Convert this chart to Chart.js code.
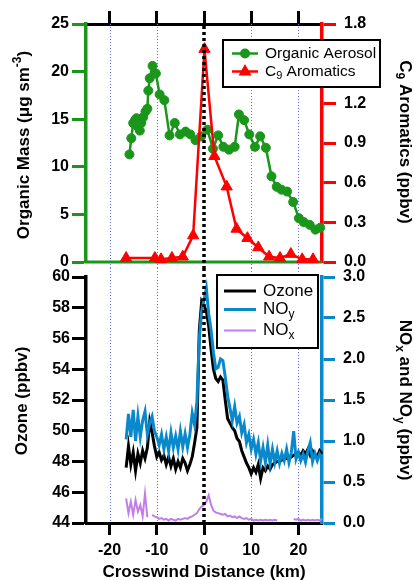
<!DOCTYPE html>
<html><head><meta charset="utf-8">
<script src="https://cdn.jsdelivr.net/npm/chart.js@4.4.1/dist/chart.umd.min.js"></script>
<style>
html,body{margin:0;padding:0;background:#fff;}
#wrap{position:relative;width:414px;height:580px;overflow:hidden;background:#fff;}
#cTop{position:absolute;left:0;top:0;}
#cBot{position:absolute;left:0;top:259px;}
</style></head><body>
<div id="wrap">
<canvas id="cTop" width="414" height="280"></canvas>
<canvas id="cBot" width="414" height="321"></canvas>
</div>
<script>
// ---------- DATA ----------
const xTicks = [-20, -10, 0, 10, 20];
const orgTicks = [0, 5, 10, 15, 20, 25];
const c9Ticks = [0, 0.3, 0.6, 0.9, 1.2, 1.5, 1.8];
const ozTicks = [44, 46, 48, 50, 52, 54, 56, 58, 60];
const noTicks = [0, 0.5, 1.0, 1.5, 2.0, 2.5, 3.0];

const oaDist = [-15.8,-15.4,-15.0,-14.6,-14.3,-14.0,-13.6,-13.3,-12.9,-12.4,-12.0,-11.8,-11.5,-10.9,-10.2,-9.4,-8.4,-7.3,-6.2,-5.1,-3.9,-2.9,-1.8,-0.6,0.7,1.9,3.0,4.1,5.3,6.5,7.4,8.5,9.6,10.8,11.9,13.1,14.3,15.4,16.4,17.6,18.9,20.1,21.1,22.4,23.6,24.6];
const oaMass = [11.3,13.0,14.6,14.9,15.1,14.2,13.8,14.6,15.2,15.8,16.1,18.0,19.3,20.6,19.8,17.6,17.0,13.3,14.6,13.4,13.7,13.4,12.8,13.2,13.9,11.9,13.3,12.1,11.8,12.1,15.5,14.9,13.4,12.1,13.2,12.0,9.0,7.9,7.6,7.4,6.3,4.6,4.2,3.9,3.4,3.6];

const c9Dist = [-16.5,-10.4,-9.1,-6.8,-4.5,-2.3,0.1,2.2,4.8,6.9,9.2,11.5,13.8,16.1,18.4,20.8,23.1];
const c9Ppbv = [0.03,0.03,0.02,0.03,0.04,0.20,1.61,0.80,0.57,0.25,0.18,0.11,0.04,0.03,0.06,0.02,0.02];

const dist = [-16.5,-16,-15.5,-15,-14.5,-14,-13.5,-13,-12.5,-12,-11.5,-11,-10.5,-10,-9.5,-9,-8.5,-8,-7.5,-7,-6.5,-6,-5.5,-5,-4.5,-4,-3.5,-3,-2.5,-2,-1.5,-1,-0.5,0,0.5,1,1.5,2,2.5,3,3.5,4,4.5,5,5.5,6,6.5,7,7.5,8,8.5,9,9.5,10,10.5,11,11.5,12,12.5,13,13.5,14,14.5,15,15.5,16,16.5,17,17.5,18,18.5,19,19.5,20,20.5,21,21.5,22,22.5,23,23.5,24,24.5,25];
const ozone = [47.6,49.0,47.8,48.6,47.4,48.5,47.9,48.7,48.2,48.9,50.6,49.9,49.0,48.3,48.6,48.1,48.4,47.8,48.3,47.7,48.2,47.5,48.0,47.6,48.2,47.9,47.4,47.8,48.3,49.2,50.2,56.5,58.4,58.1,57.8,56.8,55.3,54.0,53.4,53.2,53.5,53.3,52.0,50.8,50.5,50.2,50.0,49.5,49.3,48.7,48.3,47.9,47.6,47.2,47.6,47.3,47.8,46.9,47.6,47.4,47.7,47.5,47.8,47.9,48.0,48.0,48.1,48.2,48.2,48.3,48.3,48.4,48.5,48.6,48.4,48.7,48.5,48.8,48.4,48.7,48.5,48.3,48.7,48.5];
const noy = [1.02,1.33,1.05,1.38,1.00,1.30,1.05,1.25,1.36,1.08,1.22,1.30,1.12,1.05,0.95,1.08,0.90,1.05,0.88,1.10,0.92,1.06,0.90,1.12,0.93,1.09,0.92,1.08,1.34,1.20,1.48,2.25,2.58,2.72,2.86,2.55,2.35,2.08,1.88,1.90,2.00,1.98,1.78,1.55,1.40,1.25,1.42,1.22,1.30,1.10,1.20,0.98,1.08,0.90,1.02,0.84,0.98,0.76,0.92,0.74,0.95,0.72,0.90,0.74,0.88,0.73,0.85,0.76,0.90,0.74,0.86,1.12,0.78,0.86,0.76,0.84,0.74,0.88,0.98,0.75,0.85,0.76,0.84,0.78];
const nox = [0.30,0.12,0.26,0.10,0.28,0.14,0.22,0.08,0.36,0.07,null,0.10,0.08,0.07,0.05,0.06,0.04,0.05,0.03,0.05,0.04,0.03,0.05,0.04,0.05,0.06,0.05,0.07,0.08,0.10,0.12,0.17,0.20,0.22,0.26,0.34,0.22,0.15,0.13,0.12,0.11,0.10,0.11,0.08,0.09,0.07,0.08,0.06,0.08,0.06,0.05,0.06,0.04,0.05,0.03,0.04,0.03,0.04,0.03,0.04,0.03,0.04,0.03,0.04,0.03,null,null,null,null,null,null,0.05,0.04,0.05,0.03,0.04,0.03,0.04,0.03,0.04,0.03,0.04,0.03,0.05];

// ---------- STYLE ----------
const GREEN = '#1a961a', RED = '#ff0000', BLUE = '#0a88cc', PURPLE = '#c27ee8', GRIDBLUE = '#6b6bff';
const FONT = "'Liberation Sans', Arial, Helvetica, sans-serif";
Chart.defaults.font.family = FONT;
Chart.defaults.color = '#000';

const TOP_OFF = 0, BOT_OFF = 259, JOIN = 268; // page y where the two canvases meet
const pts = (xs, ys) => xs.map((x, i) => ({x: x, y: ys[i]}));
const setTicks = vals => (scale) => { scale.ticks = vals.map(v => ({value: v})); };
const tickFont = {size: 16, weight: 'bold'};

function drawRich(ctx, parts, cx, cy, size, weight, rot, align) {
  ctx.save();
  ctx.translate(cx, cy);
  ctx.rotate(rot || 0);
  let w = 0;
  const info = parts.map(p => {
    const fs = p.s ? Math.round(size * 0.68) : size;
    ctx.font = weight + ' ' + fs + 'px ' + FONT;
    const m = ctx.measureText(p.t).width;
    w += m;
    return {fs: fs, m: m};
  });
  let x = align === 'left' ? 0 : -w / 2;
  ctx.textBaseline = 'middle';
  ctx.textAlign = 'left';
  ctx.fillStyle = '#000';
  parts.forEach((p, i) => {
    ctx.font = weight + ' ' + info[i].fs + 'px ' + FONT;
    const dy = p.s === 'sub' ? size * 0.32 : (p.s === 'sup' ? -size * 0.36 : 0);
    ctx.fillText(p.t, x, dy);
    x += info[i].m;
  });
  ctx.restore();
}

function vGrid(chart, y0, y1) {
  const {ctx, scales: {x}} = chart;
  ctx.save();
  ctx.strokeStyle = GRIDBLUE; ctx.lineWidth = 1; ctx.setLineDash([1, 2]);
  [-20, -10, 10, 20].forEach(v => {
    const px = Math.round(x.getPixelForValue(v)) + 0.5;
    ctx.beginPath(); ctx.moveTo(px, y0); ctx.lineTo(px, y1); ctx.stroke();
  });
  ctx.restore();
}
function zeroLine(chart, y0, y1) {
  const {ctx, scales: {x}} = chart;
  ctx.save();
  ctx.strokeStyle = '#000'; ctx.lineWidth = 3.5; ctx.setLineDash([3, 3]);
  const px = x.getPixelForValue(0);
  ctx.beginPath(); ctx.moveTo(px, y0); ctx.lineTo(px, y1); ctx.stroke();
  ctx.restore();
}

const topPlugin = {
  id: 'topDeco',
  beforeDatasetsDraw(chart) {
    const {ctx, chartArea: a} = chart;
    vGrid(chart, a.top, JOIN - TOP_OFF);
    ctx.save();
    ctx.strokeStyle = GREEN; ctx.lineWidth = 3;
    ctx.beginPath(); ctx.moveTo(a.left - 1.5, a.bottom); ctx.lineTo(a.right, a.bottom); ctx.stroke();
    ctx.restore();
  },
  afterDatasetsDraw(chart) {
    zeroLine(chart, chart.chartArea.top + 2, JOIN - TOP_OFF);
  },
  afterDraw(chart) {
    const ctx = chart.ctx;
    ctx.save();
    ctx.fillStyle = '#fff'; ctx.fillRect(223, 40, 157, 47);
    ctx.strokeStyle = '#000'; ctx.lineWidth = 2; ctx.strokeRect(223, 40, 157, 47);
    ctx.lineWidth = 2.5;
    ctx.strokeStyle = GREEN; ctx.beginPath(); ctx.moveTo(232, 53.5); ctx.lineTo(258, 53.5); ctx.stroke();
    ctx.fillStyle = GREEN; ctx.beginPath(); ctx.arc(245, 53.5, 5, 0, Math.PI * 2); ctx.fill();
    ctx.strokeStyle = RED; ctx.beginPath(); ctx.moveTo(232, 71.5); ctx.lineTo(258, 71.5); ctx.stroke();
    ctx.fillStyle = RED; ctx.beginPath();
    ctx.moveTo(245, 64); ctx.lineTo(251.5, 75.5); ctx.lineTo(238.5, 75.5); ctx.closePath(); ctx.fill();
    ctx.restore();
    drawRich(ctx, [{t: 'Organic Aerosol'}], 265, 53.5, 15.5, 'normal', 0, 'left');
    drawRich(ctx, [{t: 'C'}, {t: '9', s: 'sub'}, {t: ' Aromatics'}], 265, 71.5, 15.5, 'normal', 0, 'left');
    drawRich(ctx, [{t: 'Organic Mass (\u03bcg sm'}, {t: '-3', s: 'sup'}, {t: ')'}], 24, 145 - TOP_OFF, 17, 'bold', -Math.PI / 2);
    drawRich(ctx, [{t: 'C'}, {t: '9', s: 'sub'}, {t: ' Aromatics (ppbv)'}], 405, 142 - TOP_OFF, 17, 'bold', Math.PI / 2);
  }
};

const botPlugin = {
  id: 'botDeco',
  beforeDatasetsDraw(chart) {
    vGrid(chart, JOIN - BOT_OFF, chart.chartArea.bottom);
  },
  afterDatasetsDraw(chart) {
    zeroLine(chart, JOIN - BOT_OFF, chart.chartArea.bottom);
  },
  afterDraw(chart) {
    const ctx = chart.ctx;
    const o = BOT_OFF;
    ctx.save();
    ctx.fillStyle = '#fff'; ctx.fillRect(217, 275 - o, 101, 73);
    ctx.strokeStyle = '#000'; ctx.lineWidth = 2; ctx.strokeRect(217, 275 - o, 101, 73);
    ctx.lineWidth = 3;
    ctx.strokeStyle = '#000'; ctx.beginPath(); ctx.moveTo(224, 291 - o); ctx.lineTo(256, 291 - o); ctx.stroke();
    ctx.strokeStyle = BLUE; ctx.beginPath(); ctx.moveTo(224, 309.5 - o); ctx.lineTo(256, 309.5 - o); ctx.stroke();
    ctx.lineWidth = 2;
    ctx.strokeStyle = PURPLE; ctx.beginPath(); ctx.moveTo(224, 330.5 - o); ctx.lineTo(256, 330.5 - o); ctx.stroke();
    ctx.restore();
    drawRich(ctx, [{t: 'Ozone'}], 263, 291 - o, 17, 'normal', 0, 'left');
    drawRich(ctx, [{t: 'NO'}, {t: 'y', s: 'sub'}], 263, 309.5 - o, 17, 'normal', 0, 'left');
    drawRich(ctx, [{t: 'NO'}, {t: 'x', s: 'sub'}], 263, 330.5 - o, 17, 'normal', 0, 'left');
    drawRich(ctx, [{t: 'Ozone (ppbv)'}], 22, 401 - o, 17, 'bold', -Math.PI / 2);
    drawRich(ctx, [{t: 'NO'}, {t: 'x', s: 'sub'}, {t: ' and NO'}, {t: 'y', s: 'sub'}, {t: ' (ppbv)'}], 405, 400 - o, 17, 'bold', Math.PI / 2);
    drawRich(ctx, [{t: 'Crosswind Distance (km)'}], 204, 572 - o, 17, 'bold', 0);
  }
};

// ---------- TOP CHART ----------
new Chart(document.getElementById('cTop'), {
  type: 'line',
  data: {
    datasets: [
      {label: 'C9 Aromatics', data: pts(c9Dist, c9Ppbv), yAxisID: 'yC9', borderColor: RED, backgroundColor: RED,
       borderWidth: 2.5, pointStyle: 'triangle', pointRadius: 6.5, pointBorderWidth: 1, pointBorderColor: RED, order: 1, clip: false},
      {label: 'Organic Aerosol', data: pts(oaDist, oaMass), yAxisID: 'yOrg', borderColor: GREEN, backgroundColor: GREEN,
       borderWidth: 2.5, pointStyle: 'circle', pointRadius: 4.5, pointBorderWidth: 1, pointBorderColor: GREEN, order: 2, clip: false}
    ]
  },
  options: {
    responsive: false, animation: false, events: [],
    layout: {padding: {left: 0, right: 0, top: 0, bottom: 18}},
    plugins: {legend: {display: false}, tooltip: {enabled: false}},
    elements: {line: {tension: 0}},
    scales: {
      x: {type: 'linear', position: 'top', min: -25, max: 25, afterBuildTicks: setTicks(xTicks),
          afterFit(s) { s.height = 24; },
          ticks: {display: false},
          grid: {drawOnChartArea: false, drawTicks: true, tickLength: 13, tickColor: '#000', tickWidth: 3},
          border: {display: true, color: '#000', width: 3}},
      yOrg: {type: 'linear', position: 'left', min: 0, max: 25, afterBuildTicks: setTicks(orgTicks),
          afterFit(s) { s.width = 86; },
          ticks: {font: tickFont, color: '#000', padding: 3},
          grid: {drawOnChartArea: false, tickLength: 14, tickColor: GREEN, tickWidth: 3},
          border: {color: GREEN, width: 3.5}},
      yC9: {type: 'linear', position: 'right', min: 0, max: 1.8, afterBuildTicks: setTicks(c9Ticks),
          afterFit(s) { s.width = 92; },
          ticks: {font: tickFont, color: '#000', padding: 8, callback: v => Number(v).toFixed(1)},
          grid: {drawOnChartArea: false, tickLength: 14, tickColor: RED, tickWidth: 3},
          border: {color: RED, width: 3.5}}
    }
  },
  plugins: [topPlugin]
});

// ---------- BOTTOM CHART ----------
new Chart(document.getElementById('cBot'), {
  type: 'line',
  data: {
    datasets: [
      {label: 'Ozone', data: pts(dist, ozone), yAxisID: 'yOz', borderColor: '#000', borderWidth: 3, pointRadius: 0, order: 3, clip: false},
      {label: 'NOy', data: pts(dist, noy), yAxisID: 'yNO', borderColor: BLUE, borderWidth: 3, pointRadius: 0, order: 2, clip: false},
      {label: 'NOx', data: pts(dist, nox), yAxisID: 'yNO', borderColor: PURPLE, borderWidth: 2, pointRadius: 0, order: 1, spanGaps: false, clip: false}
    ]
  },
  options: {
    responsive: false, animation: false, events: [],
    layout: {padding: {left: 0, right: 0, top: 18, bottom: 0}},
    plugins: {legend: {display: false}, tooltip: {enabled: false}},
    elements: {line: {tension: 0, borderJoinStyle: 'miter'}},
    scales: {
      x: {type: 'linear', position: 'bottom', min: -25, max: 25, afterBuildTicks: setTicks(xTicks),
          afterFit(s) { s.height = 57; },
          ticks: {font: tickFont, color: '#000', padding: 6, maxRotation: 0, autoSkip: false},
          grid: {drawOnChartArea: false, tickLength: 12, tickColor: '#000', tickWidth: 3},
          border: {color: '#000', width: 3}},
      yOz: {type: 'linear', position: 'left', min: 44, max: 60, afterBuildTicks: setTicks(ozTicks),
          afterFit(s) { s.width = 86; },
          ticks: {font: tickFont, color: '#000', padding: 2},
          grid: {drawOnChartArea: false, tickLength: 14, tickColor: '#000', tickWidth: 3},
          border: {color: '#000', width: 3.5}},
      yNO: {type: 'linear', position: 'right', min: 0, max: 3, afterBuildTicks: setTicks(noTicks),
          afterFit(s) { s.width = 92; },
          ticks: {font: tickFont, color: '#000', padding: 8, callback: v => Number(v).toFixed(1)},
          grid: {drawOnChartArea: false, tickLength: 13, tickColor: BLUE, tickWidth: 3},
          border: {color: BLUE, width: 3.5}}
    }
  },
  plugins: [botPlugin]
});
</script>
</body></html>
